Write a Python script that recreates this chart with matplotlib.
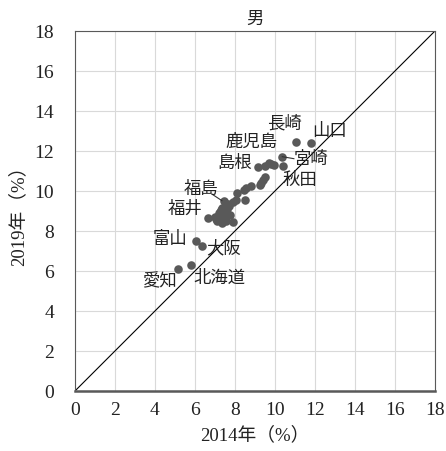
import matplotlib.pyplot as plt

plt.rcParams['font.family'] = ['Liberation Serif', 'Noto Sans CJK JP']

# 2014年, 2019年 (%) の値
x2014 = [11.08, 11.80, 10.37, 10.42, 9.17, 9.53, 9.80, 9.97, 9.70,
         9.50, 9.42, 9.33, 9.25, 8.80, 8.58, 8.47, 8.13, 8.50, 8.08,
         7.92, 7.67, 7.50, 7.37, 7.25, 7.58, 7.33, 7.17, 7.42, 7.75,
         6.67, 7.13, 7.58, 7.92, 7.37, 7.45, 7.30, 7.20, 7.60, 7.05,
         7.40, 7.70, 7.00,
         6.05, 6.33, 5.78, 5.13]
y2019 = [12.44, 12.38, 11.72, 11.25, 11.18, 11.25, 11.35, 11.30, 11.40,
         10.72, 10.55, 10.38, 10.30, 10.25, 10.13, 10.05, 9.92, 9.55, 9.55,
         9.47, 9.35, 9.22, 9.13, 8.97, 8.97, 8.80, 8.72, 8.72, 8.80,
         8.63, 8.52, 8.52, 8.47, 8.42, 9.50, 9.05, 8.90, 9.10, 8.60,
         8.85, 9.25, 8.70,
         7.52, 7.25, 6.30, 6.10]

labels = ['長崎', '山口', '鹿児島', '宮崎', '島根', '秋田', '福島', '福井',
          '富山', '大阪', '北海道', '愛知']
label_x = [10.47, 12.72, 8.83, 11.83, 8.00, 11.25, 6.33, 5.50,
           4.75, 7.42, 7.22, 4.22]
label_y = [13.35, 12.97, 12.43, 11.58, 11.38, 10.50, 10.08, 9.05,
           7.55, 7.10, 5.60, 5.47]

ticks = list(range(0, 19, 2))

fig = plt.figure(figsize=(4.46, 4.51), dpi=100)
ax = fig.add_axes([0.168, 0.133, 0.807, 0.798])

ax.scatter(x2014, y2019, s=38, color='#595959', zorder=3, linewidths=0)
ax.plot([0, 18], [0, 18], color='black', lw=0.8, zorder=2)

for t, lx, ly in zip(labels, label_x, label_y):
    ax.text(lx, ly, t, fontsize=12.5, ha='center', va='center',
            color='#222222', zorder=4)

# 引き出し線
ax.plot([10.37, 10.95], [11.72, 11.62], color='#333333', lw=0.8, zorder=3)
ax.plot([6.85, 7.35], [9.85, 9.52], color='#333333', lw=0.8, zorder=3)

ax.set_xlim(0, 18)
ax.set_ylim(0, 18)
ax.set_xticks(ticks)
ax.set_yticks(ticks)
ax.grid(color='#d9d9d9', lw=0.8, zorder=0)
ax.set_axisbelow(True)
ax.tick_params(length=0, labelsize=14, colors='#222222')
ax.tick_params(axis='y', pad=15)
ax.tick_params(axis='x', pad=8)

for s in ['top', 'left', 'right']:
    ax.spines[s].set_color('#595959')
    ax.spines[s].set_linewidth(0.8)
ax.spines['bottom'].set_color('#595959')
ax.spines['bottom'].set_linewidth(1.8)

ax.set_title('男', fontsize=12.5, pad=5, color='#222222')
ax.set_xlabel('2014年（%）', fontsize=13.5, labelpad=5, color='#222222')
ax.set_ylabel('2019年（%）', fontsize=13.5, labelpad=5, color='#222222')

fig.savefig('out.png', dpi=100)
